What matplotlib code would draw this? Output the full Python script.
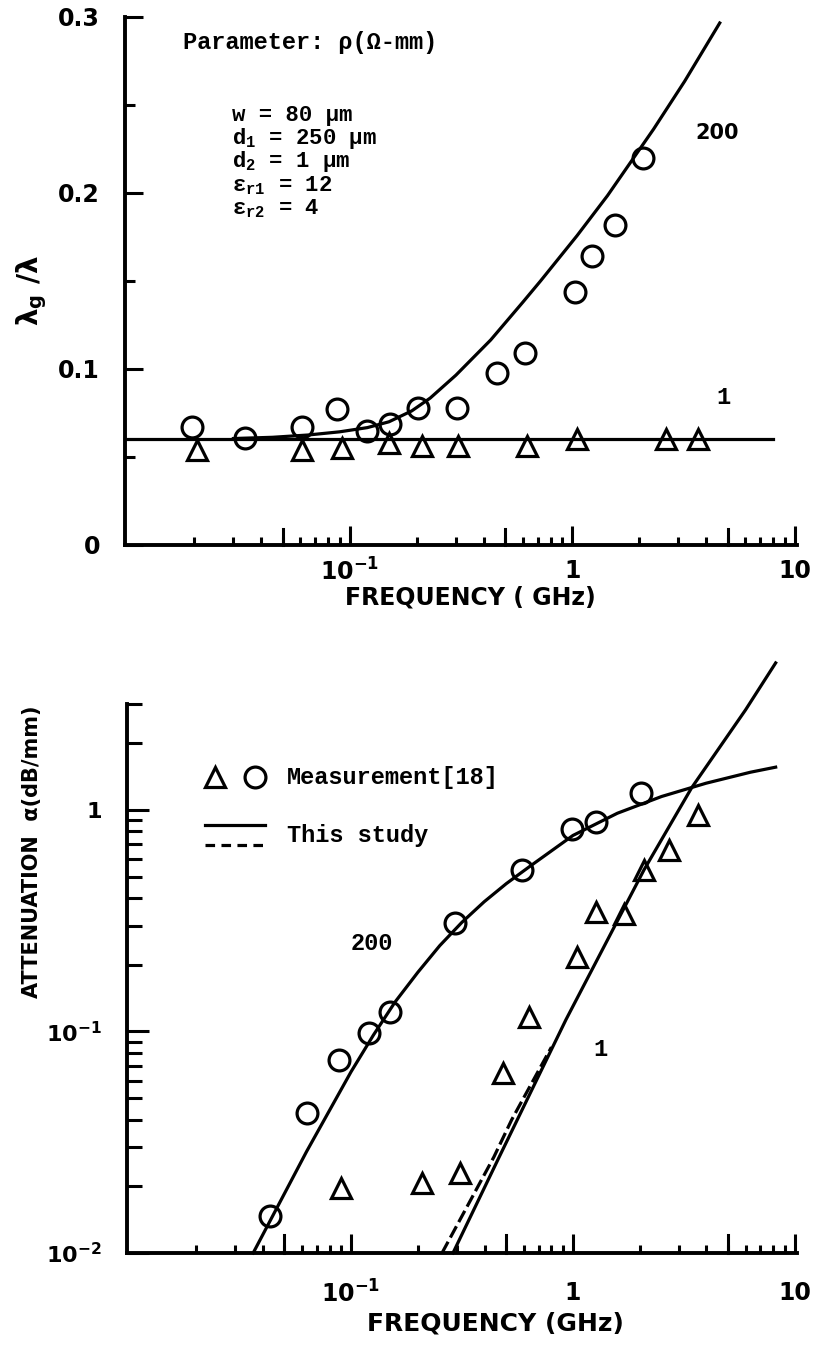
import matplotlib
matplotlib.use("Agg")
import matplotlib.pyplot as plt
from matplotlib.lines import Line2D

plt.rcParams['font.family'] = 'DejaVu Sans'
plt.rcParams['font.weight'] = 'bold'
plt.rcParams['mathtext.default'] = 'regular'

# ---- top panel: lambda_g / lambda vs frequency ----
top_meas_f_200 = [0.0195, 0.034, 0.061, 0.088, 0.119, 0.151, 0.202, 0.303, 0.459, 0.614, 1.03, 1.23, 1.55, 2.09]
top_meas_v_200 = [0.067, 0.061, 0.067, 0.077, 0.065, 0.069, 0.078, 0.078, 0.098, 0.109, 0.144, 0.164, 0.182, 0.220]
top_meas_f_1 = [0.0205, 0.061, 0.092, 0.150, 0.211, 0.306, 0.626, 1.05, 2.63, 3.66]
top_meas_v_1 = [0.054, 0.054, 0.055, 0.058, 0.056, 0.056, 0.056, 0.060, 0.060, 0.060]

top_calc_f_200 = [0.03, 0.045, 0.065, 0.09, 0.12, 0.15, 0.19, 0.23, 0.30, 0.43, 0.60, 0.72,
                  1.05, 1.44, 2.32, 3.2, 4.6]
top_calc_v_200 = [0.0605, 0.0612, 0.0625, 0.0643, 0.0667, 0.070, 0.0762, 0.0835, 0.0965, 0.1165,
                  0.138, 0.150, 0.1757, 0.1985, 0.2363, 0.2635, 0.2966]
top_calc_f_1 = [0.0098, 8.0]
top_calc_v_1 = [0.0605, 0.0605]

# ---- bottom panel: attenuation vs frequency ----
bot_meas_f_200 = [0.043, 0.0634, 0.088, 0.12, 0.15, 0.294, 0.589, 0.99, 1.27, 2.02]
bot_meas_v_200 = [0.0147, 0.043, 0.0747, 0.098, 0.122, 0.308, 0.535, 0.82, 0.88, 1.19]
bot_meas_f_1 = [0.090, 0.209, 0.31, 0.484, 0.634, 1.04, 1.27, 1.70, 2.09, 2.7, 3.65]
bot_meas_v_1 = [0.0197, 0.0207, 0.023, 0.065, 0.116, 0.216, 0.345, 0.338, 0.535, 0.66, 0.95]

bot_calc_f_200 = [0.0362, 0.063, 0.1, 0.126, 0.158, 0.2, 0.251, 0.316, 0.398, 0.501, 0.631,
                  1.0, 1.26, 1.585, 2.51, 3.98, 6.31, 8.2]
bot_calc_v_200 = [0.01, 0.0287, 0.0658, 0.0962, 0.136, 0.185, 0.244, 0.311, 0.385, 0.465, 0.551,
                  0.767, 0.861, 0.966, 1.15, 1.32, 1.48, 1.56]
bot_calc_f_1 = [0.288, 0.465, 0.93, 2.09, 3.43, 6.0, 8.2]
bot_calc_v_1 = [0.01, 0.0271, 0.113, 0.536, 1.26, 2.83, 4.61]
bot_dash_f_1 = [0.257, 0.44, 0.53, 0.80]
bot_dash_v_1 = [0.01, 0.0271, 0.040, 0.085]

x_major = [0.1, 1, 10]
x_major_labels = ['$10^{-1}$', '1', '10']

MONO = 'Liberation Mono'
W, H = 816, 1348
LW = 2.3

fig = plt.figure(figsize=(W / 100, H / 100), dpi=100)


def px_axes(l, t, r, b):
    return fig.add_axes([l / W, 1 - b / H, (r - l) / W, (b - t) / H])


def ftext(x, y, s, **kw):
    fig.text(x / W, 1 - y / H, s, **kw)


def style_xaxis(ax, pad):
    ax.set_xscale('log')
    ax.set_xlim(10 ** -2.01, 10 ** 1.01)
    ax.set_xticks(x_major)
    ax.set_xticklabels(x_major_labels)
    minors = [m * d for d in (0.01, 0.1, 1) for m in range(2, 10)]
    ax.set_xticks(minors, minor=True)
    ax.tick_params(axis='x', which='major', direction='in', length=14, width=2.2,
                   labelsize=17, pad=pad)
    ax.tick_params(axis='x', which='minor', direction='in', length=6, width=2.2)
    # half-decade ticks are drawn a bit taller in the original
    for v in (0.05, 0.5, 5):
        ax.plot([v, v], [0, 0.03], color='black', lw=2.2,
                transform=ax.get_xaxis_transform(), clip_on=False)
    for s in ('top', 'right'):
        ax.spines[s].set_visible(False)
    for s in ('left', 'bottom'):
        ax.spines[s].set_linewidth(2.8)


mk = dict(linestyle='none', markerfacecolor='none', markeredgecolor='black',
          markeredgewidth=2.3, clip_on=False, zorder=3)

# ---------------- top ----------------
ax1 = px_axes(125, 17, 797, 545)
style_xaxis(ax1, pad=10)
ax1.set_ylim(0, 0.3)
ax1.set_yticks([0, 0.1, 0.2, 0.3])
ax1.set_yticklabels(['0', '0.1', '0.2', '0.3'])
ax1.set_yticks([0.05, 0.15, 0.25], minor=True)
ax1.tick_params(axis='y', which='major', direction='in', length=13, width=2.2,
                labelsize=17, pad=18)
ax1.tick_params(axis='y', which='minor', direction='in', length=7, width=2.2)

ax1.plot(top_calc_f_1, top_calc_v_1, color='black', lw=LW, clip_on=False)
ax1.plot(top_calc_f_200, top_calc_v_200, color='black', lw=LW, clip_on=False)
ax1.plot(top_meas_f_200, top_meas_v_200, marker='o', markersize=15, **mk)
ax1.plot(top_meas_f_1, top_meas_v_1, marker='^', markersize=15, **mk)

ftext(183, 42, 'Parameter: ρ(Ω-mm)', family=MONO, size=17, va='center')
ftext(232, 121, 'w = 80 μm', family=MONO, size=16, va='baseline')
ftext(232, 144, 'd$_1$ = 250 μm', family=MONO, size=16, va='baseline')
ftext(232, 167, 'd$_2$ = 1 μm', family=MONO, size=16, va='baseline')
ftext(232, 191, 'ε$_{r1}$ = 12', family=MONO, size=16, va='baseline')
ftext(232, 214, 'ε$_{r2}$ = 4', family=MONO, size=16, va='baseline')
ftext(717, 133, '200', size=15, ha='center', va='center')
ftext(723, 398, '1', family=MONO, size=17, ha='center', va='center')
ftext(32, 290, 'λ$_g$ /λ', size=20, rotation=90, ha='center', va='center')
ftext(470, 598, 'FREQUENCY ( GHz)', size=17, ha='center', va='center')

# ---------------- bottom ----------------
ax2 = px_axes(127, 650, 797, 1253)
style_xaxis(ax2, pad=20)
ax2.set_yscale('log')
ax2.set_ylim(0.01, 10 ** 0.722)
ax2.spines['left'].set_bounds(0.01, 3)
ax2.set_yticks([0.01, 0.1, 1])
ax2.set_yticklabels(['$10^{-2}$', '$10^{-1}$', '1'])
ax2.set_yticks([m * d for d in (0.01, 0.1) for m in range(2, 10)] + [2, 3], minor=True)
ax2.tick_params(axis='y', which='major', direction='in', length=16, width=2.2,
                labelsize=16, pad=18)
ax2.tick_params(axis='y', which='minor', direction='in', length=11, width=2.2)

ax2.plot(bot_calc_f_200, bot_calc_v_200, color='black', lw=LW, clip_on=False)
ax2.plot(bot_calc_f_1, bot_calc_v_1, color='black', lw=LW, clip_on=False)
ax2.plot(bot_dash_f_1, bot_dash_v_1, color='black', lw=LW, ls=(0, (4, 1.5)))
ax2.plot(bot_meas_f_200, bot_meas_v_200, marker='o', markersize=15, **mk)
ax2.plot(bot_meas_f_1, bot_meas_v_1, marker='^', markersize=15, **mk)

# hand-made legend in axes fraction
tr = ax2.transAxes
ax2.add_line(Line2D([0.131], [0.789], marker='^', markersize=15, transform=tr,
                    markerfacecolor='none', markeredgecolor='black', markeredgewidth=2.3))
ax2.add_line(Line2D([0.191], [0.789], marker='o', markersize=15, transform=tr,
                    markerfacecolor='none', markeredgecolor='black', markeredgewidth=2.3))
ax2.text(0.239, 0.789, 'Measurement[18]', family=MONO, size=17, va='center', transform=tr)
ax2.add_line(Line2D([0.116, 0.206], [0.710, 0.710], color='black', lw=LW, transform=tr))
ax2.add_line(Line2D([0.116, 0.206], [0.677, 0.677], color='black', lw=LW,
                    ls=(0, (3, 2)), transform=tr))
ax2.text(0.239, 0.693, 'This study', family=MONO, size=17, va='center', transform=tr)

ftext(372, 943, '200', family=MONO, size=17, ha='center', va='center')
ftext(600, 1050, '1', family=MONO, size=17, ha='center', va='center')
ftext(32, 852, 'ATTENUATION  α(dB/mm)', size=15, rotation=90, ha='center', va='center')
ftext(495, 1323, 'FREQUENCY (GHz)', size=18, ha='center', va='center')

fig.savefig('out.png', dpi=100)
